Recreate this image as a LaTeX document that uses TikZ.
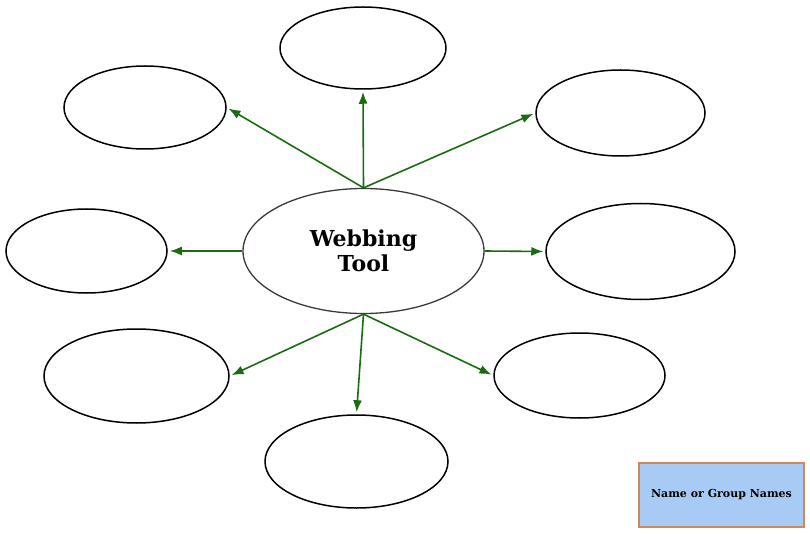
\documentclass[tikz,border=0pt]{standalone}
\usepackage{fontspec}
\setmainfont{DejaVu Serif}
\usetikzlibrary{shapes.geometric,arrows.meta}
\definecolor{arrowgreen}{HTML}{1A6B12}
\definecolor{boxfill}{HTML}{A8CBF5}
\definecolor{boxdraw}{HTML}{D0875A}
\definecolor{hubdraw}{HTML}{3A3A3A}
\tikzset{
  bubble/.style={ellipse, draw=black, line width=1.5pt, fill=white, inner sep=0pt},
  hub/.style={ellipse, draw=hubdraw, line width=1.3pt, fill=white, inner sep=0pt, align=center, font=\bfseries\fontsize{22}{25}\selectfont},
  link/.style={draw=arrowgreen, line width=1.6pt, -{Latex[length=12pt,width=9pt]}, shorten >=2pt},
  namebox/.style={rectangle, draw=boxdraw, line width=1.6pt, fill=boxfill, inner sep=0pt, font=\bfseries\fontsize{11}{13}\selectfont}
}
\begin{document}
\begin{tikzpicture}[x=1pt,y=-1pt]
\useasboundingbox (0,0) rectangle (810,534);
\node[hub, minimum width=241pt, minimum height=125pt] (c) at (363.5,251) {Webbing\\Tool};
\node[bubble, minimum width=166pt, minimum height=82pt] (t) at (363,48) {};
\node[bubble, minimum width=162pt, minimum height=83pt] (tl) at (145,107.5) {};
\node[bubble, minimum width=169pt, minimum height=86pt] (tr) at (620.5,113) {};
\node[bubble, minimum width=161pt, minimum height=84pt] (l) at (86.5,251) {};
\node[bubble, minimum width=189pt, minimum height=96pt] (r) at (640.5,251.5) {};
\node[bubble, minimum width=185pt, minimum height=94pt] (bl) at (136.5,376) {};
\node[bubble, minimum width=183pt, minimum height=93pt] (b) at (356.5,461.5) {};
\node[bubble, minimum width=171pt, minimum height=85pt] (br) at (579.5,375.5) {};
\node[namebox, minimum width=165pt, minimum height=64pt] (nm) at (721.5,495) {Name or Group Names};
\draw[link] (c.north) -- (t.south);
\draw[link] (c.north) -- (tl.east);
\draw[link] (c.north) -- (tr.west);
\draw[link] (c.west) -- (l.east);
\draw[link] (c.east) -- (r.west);
\draw[link] (c.south) -- (bl.east);
\draw[link] (c.south) -- (b.north);
\draw[link] (c.south) -- (br.west);
\end{tikzpicture}
\end{document}
